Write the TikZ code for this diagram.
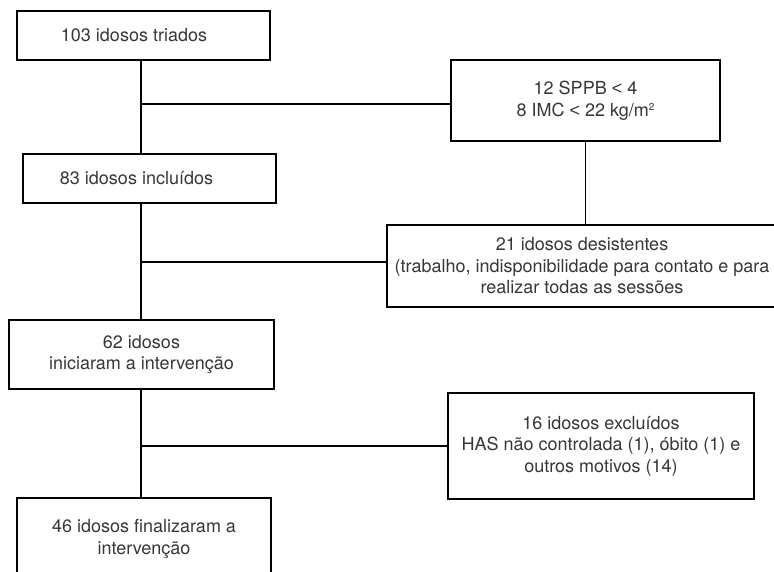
\documentclass[tikz,border=0pt]{standalone}
\usepackage{fontspec}
\setmainfont{TeX Gyre Heros}
\newfontfamily\lsfont{Liberation Sans}
\newcommand{\lessmark}{{\lsfont <}}
\definecolor{txt}{RGB}{55,55,55}
\begin{document}
\begin{tikzpicture}[x=1pt,y=-1pt,
  flowbox/.style={draw=black,line width=2pt,rectangle,inner sep=0pt,align=center,
    text=txt,font=\fontsize{18}{21.5}\selectfont},
  link/.style={draw=black,line width=1.8pt}]
\clip (0,0) rectangle (774,572);
\fill[white] (0,0) rectangle (774,572);
\node[flowbox,minimum width=253pt,minimum height=49pt] (b1) at (143.5,35.5) {103 idosos triados\hspace{19pt}};
\node[flowbox,minimum width=269pt,minimum height=81pt] (b2) at (585.5,100.5) {12 SPPB \lessmark{} 4\\8 IMC \lessmark{} 22 kg/m{\fontsize{10}{10}\selectfont\raisebox{6pt}{2}}};
\node[flowbox,minimum width=253pt,minimum height=49pt] (b3) at (149.5,178.5) {83 idosos incluídos\hspace{26pt}};
\node[flowbox,minimum width=390pt,minimum height=82pt] (b4) at (582,266) {21 idosos desistentes\\(trabalho, indisponibilidade para contato e para\\realizar todas as sessões};
\node[flowbox,minimum width=265pt,minimum height=69pt] (b5) at (141.5,354.5) {62 idosos\\iniciaram a intervenção};
\node[flowbox,minimum width=306pt,minimum height=106pt] (b6) at (601,446) {16 idosos excluídos\\HAS não controlada (1), óbito (1) e\\outros motivos (14)};
\node[flowbox,minimum width=254pt,minimum height=82pt] (b7) at (144,539) {\raisebox{5pt}{\begin{tabular}{@{}c@{}}46 idosos finalizaram a\\intervenção\end{tabular}}};
\coordinate (j1) at (141,104);
\coordinate (j2) at (141,262);
\coordinate (j3) at (141,446);
\draw[link] (b1.south -| j1) -- (b3.north -| j1);
\draw[link] (j1) -- (j1 -| b2.west);
\draw[link] (b2.south) -- (b2.south |- b4.north);
\draw[link] (b3.south -| j2) -- (b5.north -| j2);
\draw[link] (j2) -- (j2 -| b4.west);
\draw[link] (b5.south -| j3) -- (b7.north -| j3);
\draw[link] (j3) -- (j3 -| b6.west);
\end{tikzpicture}
\end{document}
